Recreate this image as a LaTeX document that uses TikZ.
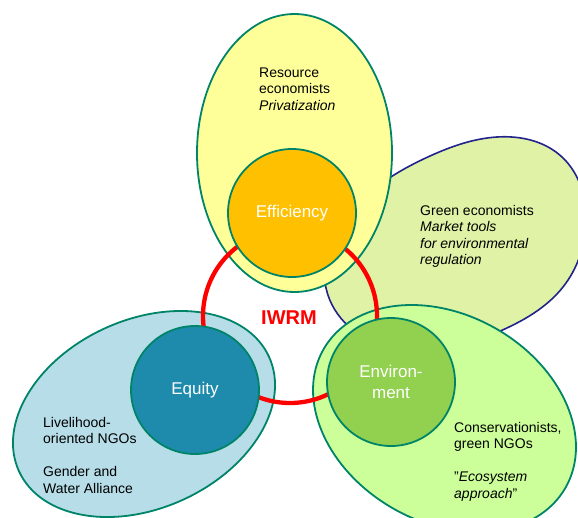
\documentclass[tikz,border=0pt]{standalone}
\usepackage{fontspec}
\setmainfont{Liberation Sans}
\usetikzlibrary{hobby}
\definecolor{bord}{RGB}{0,132,104}
\definecolor{yfill}{RGB}{255,255,153}
\definecolor{effc}{RGB}{255,192,0}
\definecolor{blobfill}{RGB}{223,242,165}
\definecolor{blobline}{RGB}{35,35,140}
\definecolor{envfill}{RGB}{204,255,153}
\definecolor{envc}{RGB}{146,208,80}
\definecolor{eqfill}{RGB}{182,221,232}
\definecolor{eqc}{RGB}{30,139,173}
\definecolor{ringc}{RGB}{255,0,0}
\begin{document}
\begin{tikzpicture}[x=1pt,y=-1pt,
  zone/.style={draw=bord, line width=1.8pt},
  core/.style={circle, draw=bord, line width=1.8pt, minimum size=128pt, inner sep=0pt,
    text=white, align=center, font=\fontsize{17}{21.5}\selectfont},
  note/.style={anchor=base west, align=left, inner sep=0pt, text=black,
    font=\fontsize{14}{16.5}\selectfont}]
\useasboundingbox (0,0) rectangle (578,517);
\begin{scope}
\clip (0,0) rectangle (578,517);
% green economists blob
\draw[fill=blobfill, draw=blobline, line width=1.6pt, use Hobby shortcut, closed=true]
  (326,288) .. (390,348) .. (498,332) .. (563,287) .. (586,222) .. (562,157)
  .. (497,137) .. (430,156) .. (370,192);
% efficiency zone
\draw[zone, fill=yfill] (294.5,153) ellipse [x radius=97.5pt, y radius=139pt];
% equity zone
\draw[zone, fill=eqfill, rotate around={24.6:(144,414)}]
  (144,414) ellipse [x radius=137.5pt, y radius=94.2pt];
% environment zone
\draw[zone, fill=envfill, rotate around={-29.8:(444.5,418.5)}]
  (444.5,418.5) ellipse [x radius=139.4pt, y radius=103.6pt];
\end{scope}
% IWRM ring
\draw[ringc, line width=4.3pt] (290,316) circle [radius=87pt];
% core circles
\node[core, fill=effc] (eff) at (292,213) {Efficiency};
\node[core, fill=eqc] (eq) at (195,390) {Equity};
\node[core, fill=envc] (env) at (391,382) {Environ-\\ment};
\node[text=ringc, font=\fontsize{20}{24}\selectfont\bfseries] (iwrm) at (289,318) {IWRM};
% notes (anchored at the baseline of the last line)
\node[note] (res) at (259,110) {Resource\\economists\\\textit{Privatization}};
\node[note] (green) at (420,264.5) {Green economists\\\textit{Market tools}\\\textit{for environmental}\\\textit{regulation}};
\node[note] (live) at (43,493) {Livelihood-\\oriented NGOs\\[16.5pt]Gender and\\Water Alliance};
\node[note] (cons) at (454,498) {Conservationists,\\green NGOs\\[16.5pt]"\textit{Ecosystem}\\\textit{approach}"};
\end{tikzpicture}
\end{document}
